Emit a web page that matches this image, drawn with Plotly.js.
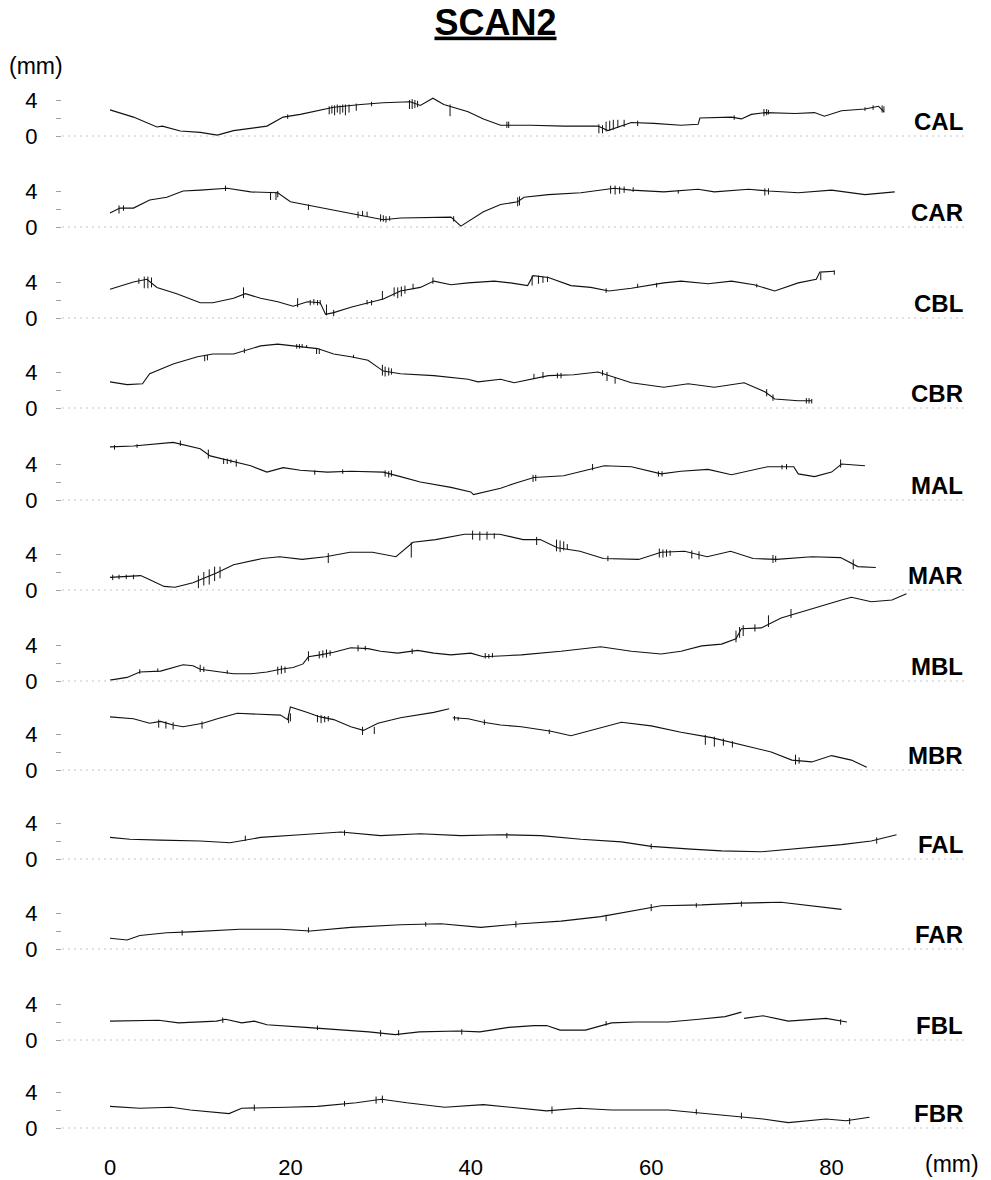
<!DOCTYPE html>
<html>
<head>
<meta charset="utf-8">
<script src="https://cdn.plot.ly/plotly-3.0.1.min.js"></script>
<style>
  html, body { margin: 0; padding: 0; background: #fff; }
  #chart { width: 991px; height: 1180px; }
</style>
</head>
<body>
<div id="chart"></div>
<script>
// Surface profiles, SCAN2: height (mm) along the scan (mm), one strip per region.
const seriesNames = ['CAL', 'CAR', 'CBL', 'CBR', 'MAL', 'MAR', 'MBL', 'MBR', 'FAL', 'FAR', 'FBL', 'FBR'];
const xTickValues = [0, 20, 40, 60, 80];
const yTickValues = [0, 2, 4];
const yTickLabels = ['0', '', '4'];

// Profile traces: position (mm) and height (mm).
const calX = [0, 2.6, 5.2, 5.8, 7.8, 10, 11.9, 13.7, 17.4, 19.2, 21.1, 23, 24.8, 27.8, 30.3, 33.3, 34.4, 35.8, 37, 39.7, 41.4, 43.3, 46.7, 50.3, 54.1, 55.2, 57.8, 60.3, 63.3, 65.2, 65.4, 68.9, 70, 71.1, 72.6, 76, 78.1, 79.2, 81.1, 83.7, 85.2, 85.8];
const calY = [2.9, 2.1, 1.0, 1.1, 0.55, 0.4, 0.1, 0.6, 1.1, 2.1, 2.4, 2.8, 3.2, 3.5, 3.7, 3.8, 3.4, 4.2, 3.5, 2.7, 1.9, 1.2, 1.2, 1.1, 1.1, 0.6, 1.5, 1.4, 1.2, 1.3, 2.0, 2.1, 1.9, 2.4, 2.6, 2.5, 2.6, 2.2, 2.8, 3.0, 3.3, 2.7];

const carX = [0, 1.1, 2.6, 4.4, 6.3, 8.1, 10, 13, 15.6, 18.6, 20, 23, 24.8, 27.8, 30.3, 32.2, 35.9, 37.8, 38.9, 41.4, 43.3, 45.2, 45.9, 48.6, 52.2, 55.9, 57.8, 61.4, 65.2, 67, 70.8, 73, 76.3, 80, 83.7, 87];
const carY = [1.55, 2.1, 2.1, 3.0, 3.3, 4.0, 4.1, 4.3, 3.9, 3.8, 2.8, 2.2, 1.9, 1.3, 0.8, 1.0, 1.1, 1.1, 0.1, 1.7, 2.5, 2.8, 3.3, 3.6, 3.8, 4.3, 4.1, 3.9, 4.2, 3.9, 4.2, 4.0, 3.8, 4.1, 3.6, 3.9];

const cblX = [0, 2.6, 4.1, 5.2, 7.4, 10, 11.4, 13.7, 15, 16.7, 18.6, 20.3, 21.9, 23.3, 23.9, 24.8, 26.7, 28.6, 30.3, 32.2, 34.4, 35.9, 37.8, 39.7, 42.6, 44.4, 46.3, 46.9, 48.6, 51.1, 53.3, 55.3, 57.8, 61.4, 63.3, 66.3, 68.9, 71.4, 73.7, 76.3, 78.3, 78.7, 80.3];
const cblY = [3.2, 4.0, 4.3, 3.4, 2.7, 1.7, 1.7, 2.2, 2.7, 2.2, 1.8, 1.3, 1.8, 1.7, 0.4, 0.6, 1.2, 1.7, 2.1, 3.0, 3.4, 4.1, 3.7, 3.9, 4.1, 3.9, 3.6, 4.7, 4.5, 3.6, 3.4, 3.0, 3.3, 3.9, 4.1, 3.8, 4.1, 3.7, 3.0, 3.9, 4.3, 5.1, 5.2];

const cbrX = [0, 1.9, 3.6, 4.4, 7, 9.7, 11.4, 13.7, 16.7, 18.6, 20.3, 23, 24.8, 26.7, 28.6, 30.3, 32.2, 35.9, 39.7, 40.8, 43.3, 44.8, 48.6, 51.4, 54.1, 55.9, 57.8, 61.4, 64.1, 67, 70.3, 72.6, 73.7, 76.3, 77.8];
const cbrY = [2.9, 2.6, 2.7, 3.8, 4.9, 5.7, 6.0, 6.0, 6.9, 7.1, 6.9, 6.6, 6.0, 5.7, 5.3, 4.1, 3.8, 3.6, 3.2, 2.9, 3.2, 2.8, 3.6, 3.7, 4.0, 3.4, 2.8, 2.3, 2.7, 2.3, 2.8, 1.8, 1.0, 0.8, 0.8];

const malX = [0, 2.6, 7, 7.8, 10, 11.1, 13.7, 15.6, 17.4, 19.2, 21.1, 24.1, 26.7, 30.3, 32.2, 34.4, 37.8, 40, 40.3, 43.3, 45, 47, 50.3, 54.8, 57.8, 61.1, 63.3, 66.3, 68.9, 71.4, 72.9, 75.8, 76.3, 78.1, 80, 81.1, 83.7];
const malY = [5.9, 6.0, 6.4, 6.2, 5.7, 4.9, 4.3, 3.8, 3.1, 3.6, 3.3, 3.1, 3.2, 3.1, 2.6, 2.0, 1.4, 0.9, 0.6, 1.3, 1.9, 2.5, 2.7, 3.8, 3.7, 2.9, 3.2, 3.4, 2.8, 3.4, 3.7, 3.7, 2.9, 2.6, 3.1, 4.0, 3.8];

const marX = [0, 3.4, 4.3, 6, 7.2, 9.2, 11.8, 13.7, 16.9, 18.8, 21.3, 23.9, 26.6, 29.1, 31.7, 33.6, 36.1, 39.3, 43.2, 45.8, 47.7, 49.6, 52.1, 54.7, 58.6, 61.1, 63.7, 66.2, 68.8, 71.3, 73.9, 77.8, 81, 82.9, 84.9];
const marY = [1.4, 1.6, 1.2, 0.4, 0.3, 0.8, 1.9, 2.8, 3.5, 3.7, 3.4, 3.7, 4.2, 4.2, 3.7, 5.3, 5.6, 6.2, 6.2, 5.6, 5.6, 4.7, 4.3, 3.5, 3.4, 4.2, 4.3, 3.7, 4.3, 3.5, 3.4, 3.7, 3.6, 2.6, 2.5];

const mblX = [0, 1.9, 3.3, 5.6, 8.1, 9.2, 10, 11.9, 13.7, 15.6, 17.4, 18.9, 20.3, 21.4, 22, 23.3, 24.8, 26.7, 28.6, 30, 31.9, 34.1, 35.9, 37.8, 40, 41.4, 43.3, 45.6, 50, 54.4, 57.8, 61.1, 63.3, 65.6, 67.8, 69.4, 70, 72.2, 74.4, 76.7, 78.9, 81.1, 82.2, 84.4, 86.7, 88.3];
const mblY = [0.1, 0.4, 1.0, 1.1, 1.8, 1.7, 1.3, 1.0, 0.8, 0.8, 1.0, 1.3, 1.5, 1.9, 2.7, 2.9, 3.2, 3.7, 3.6, 3.3, 3.1, 3.4, 3.1, 2.9, 3.1, 2.7, 2.8, 2.9, 3.3, 3.8, 3.3, 3.0, 3.3, 3.9, 4.1, 4.7, 5.8, 5.9, 7.0, 7.7, 8.4, 9.0, 9.3, 8.8, 9.0, 9.7];

const mbrX = [0, 2.6, 4.4, 5.6, 7, 8.1, 10.3, 11.9, 14.1, 16.7, 18.9, 19.7, 20, 21.9, 23.3, 24.8, 26.7, 28.1, 29.7, 32.2, 34.1, 35.9, 37.6, null, 38, 39.7, 41.4, 43.3, 45.6, 48.9, 51.1, 54.4, 56.7, 60, 63.3, 66.7, 70, 73.3, 75.6, 77.8, 80, 82.2, 83.9];
const mbrY = [5.9, 5.7, 5.2, 5.4, 5.0, 4.8, 5.2, 5.7, 6.3, 6.2, 6.1, 5.6, 7.0, 6.4, 5.9, 5.6, 4.8, 4.4, 5.2, 5.8, 6.1, 6.4, 6.8, null, 5.8, 5.7, 5.3, 5.0, 4.8, 4.3, 3.8, 4.7, 5.3, 4.9, 4.2, 3.6, 2.8, 2.0, 1.1, 0.9, 1.6, 1.1, 0.3];

const falX = [0, 2.2, 5.6, 10, 13.3, 16.7, 21.1, 25.6, 30, 34.4, 38.9, 43.3, 47.8, 52.2, 56.7, 60, 64.4, 67.8, 72.2, 76.7, 81.1, 84.4, 87.2];
const falY = [2.4, 2.2, 2.1, 2.0, 1.8, 2.4, 2.7, 3.0, 2.6, 2.8, 2.6, 2.7, 2.6, 2.2, 1.9, 1.4, 1.1, 0.9, 0.8, 1.2, 1.6, 2.0, 2.7];

const farX = [0, 1.9, 3.3, 6.3, 8.9, 14.4, 18.9, 22.2, 26.7, 32.2, 36.7, 41.1, 45.6, 50, 54.4, 57.8, 61.1, 65.6, 70, 74.4, 76.7, 81.1];
const farY = [1.2, 1.0, 1.5, 1.8, 1.9, 2.2, 2.2, 2.0, 2.4, 2.7, 2.8, 2.4, 2.8, 3.1, 3.6, 4.2, 4.8, 4.9, 5.1, 5.2, 4.9, 4.4];

const fblX = [0, 5.4, 7.6, 11.8, 12.8, 14.6, 16, 17.4, 21.7, 25.9, 28.7, 31.6, 34.3, 38.6, 41, 44.2, 47, 48.4, 49.9, 52.7, 55.6, 58.3, 61.9, 65.3, 68.2, 70, null, 70.3, 72.4, 75.2, 79.4, 81.7];
const fblY = [2.1, 2.2, 1.9, 2.1, 2.3, 1.9, 2.1, 1.7, 1.4, 1.1, 0.9, 0.6, 0.9, 1.0, 0.9, 1.4, 1.6, 1.6, 1.1, 1.1, 1.9, 2.0, 2.0, 2.3, 2.6, 3.1, null, 2.4, 2.7, 2.1, 2.4, 2.0];

const fbrX = [0, 3.3, 6.8, 8.9, 13.2, 14.6, 19.6, 23, 27.3, 30.1, 32.9, 37.1, 41.4, 44.2, 48.4, 52, 55.6, 61.9, 65.3, 69.7, 72.4, 75.2, 79.4, 81.6, 84.2];
const fbrY = [2.4, 2.2, 2.3, 2.0, 1.6, 2.2, 2.3, 2.4, 2.8, 3.2, 2.8, 2.3, 2.6, 2.3, 1.9, 2.2, 2.0, 2.0, 1.7, 1.3, 1.0, 0.6, 1.0, 0.8, 1.2];

// Stylus spikes: [position, lowest height, highest height] in mm.
const calSpikes = [[19.7, 1.9, 2.4], [24.3, 2.4, 3.3], [24.6, 2.5, 3.4], [24.9, 2.3, 3.4], [25.2, 2.6, 3.5], [25.5, 2.4, 3.4], [25.8, 2.6, 3.5], [26.1, 2.3, 3.5], [26.5, 2.6, 3.5], [27.3, 2.8, 3.6], [29.0, 3.3, 3.8], [33.2, 3.0, 4.0], [33.5, 3.0, 4.1], [33.8, 3.1, 4.0], [34.1, 3.2, 3.9], [37.7, 2.2, 3.5], [44.0, 0.9, 1.6], [44.2, 0.9, 1.6], [54.2, 0.3, 1.3], [54.6, 0.3, 1.2], [55.0, 0.5, 1.6], [55.4, 0.6, 1.7], [55.8, 0.7, 1.8], [56.3, 0.9, 1.8], [57.0, 1.0, 1.8], [58.5, 1.1, 1.7], [69.2, 1.8, 2.3], [72.5, 2.2, 3.0], [72.8, 2.3, 3.0], [73.0, 2.4, 2.9], [83.7, 2.8, 3.2], [84.6, 2.9, 3.4], [85.6, 2.6, 3.4], [85.8, 2.6, 3.3]];
const carSpikes = [[1.0, 1.5, 2.4], [1.5, 1.8, 2.4], [12.8, 4.0, 4.6], [17.8, 3.0, 3.9], [18.4, 3.0, 3.9], [18.6, 3.3, 4.0], [22, 1.9, 2.5], [27.5, 1.0, 1.7], [28, 1.2, 1.8], [28.5, 1.2, 1.7], [30.0, 0.6, 1.4], [30.3, 0.6, 1.3], [30.6, 0.5, 1.2], [31.0, 0.7, 1.2], [38.1, 0.6, 1.2], [45.2, 2.3, 3.3], [45.4, 2.4, 3.4], [55.5, 3.7, 4.6], [56, 3.6, 4.6], [56.5, 3.7, 4.5], [57, 3.8, 4.5], [58, 3.9, 4.4], [63.0, 3.7, 4.1], [72.6, 3.5, 4.3], [73, 3.6, 4.3]];
const cblSpikes = [[3.2, 3.8, 4.4], [3.8, 3.3, 4.6], [4.2, 3.3, 4.6], [4.6, 3.4, 4.5], [14.8, 2.2, 3.4], [20.8, 1.2, 2.2], [22.2, 1.4, 2.0], [22.6, 1.5, 2.1], [23.0, 1.4, 2.0], [23.3, 1.5, 2.0], [24.0, 0.3, 1.5], [24.8, 0.2, 0.9], [28.5, 1.5, 2.0], [29.0, 1.4, 2.0], [30.2, 2.0, 3.0], [31.5, 2.4, 3.4], [31.9, 2.2, 3.4], [32.3, 2.4, 3.5], [32.7, 2.7, 3.6], [33.6, 3.2, 3.8], [35.8, 3.8, 4.5], [46.8, 3.6, 4.7], [47.5, 3.8, 4.7], [48.0, 3.9, 4.6], [48.5, 4.0, 4.6], [55, 2.8, 3.3], [58.5, 3.4, 3.8], [60.6, 3.4, 3.9], [71.7, 3.4, 3.8], [78.8, 4.2, 5.0], [80.3, 4.8, 5.3]];
const cbrSpikes = [[10.5, 5.2, 5.9], [10.8, 5.3, 5.9], [14.9, 6.1, 6.6], [20.7, 6.6, 7.1], [21.0, 6.6, 7.1], [21.3, 6.7, 7.1], [21.8, 6.7, 7.0], [22.9, 6.0, 6.6], [23.2, 6.0, 6.6], [27, 5.6, 5.9], [30.2, 3.6, 4.8], [30.5, 3.5, 4.6], [30.9, 3.6, 4.5], [31.2, 3.7, 4.4], [47, 3.2, 3.8], [48, 3.3, 4.0], [49.6, 3.3, 3.9], [50, 3.3, 3.9], [54.6, 3.6, 4.2], [55.1, 3.0, 4.0], [56, 2.7, 3.4], [72.8, 1.3, 2.1], [73.5, 0.8, 1.5], [77.2, 0.5, 1.1], [77.5, 0.5, 1.1], [77.8, 0.5, 1.0]];
const malSpikes = [[0.5, 5.6, 6.1], [3.0, 5.8, 6.2], [7.8, 6.0, 6.6], [10.9, 4.6, 5.6], [12.6, 4.0, 4.6], [13.0, 4.0, 4.6], [13.4, 4.1, 4.5], [14.0, 3.7, 4.5], [22.7, 2.8, 3.3], [25.8, 2.9, 3.4], [30.5, 2.6, 3.3], [30.9, 2.5, 3.2], [31.2, 2.6, 3.3], [46.9, 2.0, 2.8], [47.2, 2.1, 2.8], [53.5, 3.3, 4.0], [60.8, 2.6, 3.2], [61.2, 2.6, 3.2], [74.5, 3.4, 3.9], [75.0, 3.4, 4.0], [81.0, 3.6, 4.5]];
const marSpikes = [[0.3, 1.1, 1.7], [1.0, 1.2, 1.7], [1.8, 1.2, 1.7], [2.6, 1.2, 1.7], [9.8, 0.2, 1.6], [10.4, 0.5, 2.0], [11.0, 0.6, 2.3], [11.6, 1.0, 2.6], [12.2, 1.3, 2.6], [24.2, 3.0, 4.1], [33.4, 3.6, 5.3], [40.2, 5.6, 6.6], [41.0, 5.5, 6.5], [41.8, 5.6, 6.5], [42.6, 5.7, 6.3], [47.3, 5.0, 5.9], [49.5, 4.3, 5.6], [49.9, 4.2, 5.5], [50.3, 4.4, 5.4], [50.7, 4.5, 5.1], [55.2, 3.2, 3.8], [60.9, 3.6, 4.6], [61.3, 3.6, 4.5], [61.7, 3.7, 4.5], [62.1, 3.8, 4.4], [64.5, 3.5, 4.4], [65.3, 3.4, 4.3], [73.5, 3.0, 3.9], [73.8, 3.1, 3.8], [82.4, 2.3, 3.4]];
const mblSpikes = [[3.3, 0.8, 1.3], [5.3, 1.0, 1.4], [10.0, 1.0, 1.8], [10.4, 1.0, 1.6], [13.0, 0.8, 1.2], [18.6, 0.7, 1.6], [19.0, 0.8, 1.7], [19.4, 0.9, 1.6], [22.0, 2.2, 3.3], [23.2, 2.5, 3.3], [23.6, 2.6, 3.4], [24.0, 2.6, 3.5], [24.4, 2.8, 3.4], [27.5, 3.3, 4.0], [28.3, 3.4, 3.9], [33.5, 3.0, 3.6], [41.6, 2.5, 3.1], [42.0, 2.5, 3.0], [42.4, 2.6, 3.1], [69.4, 4.3, 5.6], [69.8, 4.8, 6.0], [70.2, 5.0, 6.2], [71.5, 5.5, 6.3], [73, 6.0, 7.3], [75.5, 7.0, 8.0]];
const mbrSpikes = [[5.4, 4.7, 5.6], [6.2, 4.6, 5.4], [7.0, 4.5, 5.3], [10.2, 4.6, 5.4], [19.8, 5.2, 6.2], [20.0, 5.4, 6.3], [23.0, 5.3, 6.1], [23.4, 5.2, 6.1], [23.8, 5.3, 6.0], [24.2, 5.4, 6.0], [28.0, 3.9, 4.8], [29.3, 4.0, 4.8], [38.2, 5.5, 6.0], [38.6, 5.5, 5.9], [41.5, 5.0, 5.6], [48.7, 4.0, 4.5], [66.0, 2.8, 3.9], [67.0, 2.6, 3.7], [68.0, 2.7, 3.5], [69.0, 2.5, 3.2], [76.0, 0.6, 1.7], [76.4, 0.7, 1.4]];
const falSpikes = [[15, 2.0, 2.6], [26, 2.6, 3.2], [44, 2.3, 2.9], [60, 1.1, 1.7], [85, 1.7, 2.4]];
const farSpikes = [[8, 1.5, 2.1], [22, 1.8, 2.4], [35, 2.5, 3.0], [45, 2.4, 3.1], [55, 3.1, 3.8], [60, 4.2, 5.0], [65, 4.6, 5.1], [70, 4.7, 5.3]];
const fblSpikes = [[12.5, 1.9, 2.5], [23, 1.1, 1.6], [30, 0.4, 1.1], [32, 0.5, 1.1], [39, 0.6, 1.2], [55, 1.6, 2.1], [81, 1.7, 2.3]];
const fbrSpikes = [[16, 1.9, 2.6], [26, 2.4, 3.0], [29.5, 2.7, 3.5], [30.2, 2.8, 3.6], [49, 1.6, 2.4], [65, 1.5, 2.1], [70, 1.0, 1.7], [82, 0.4, 1.1]];

const profiles = [
  { name: seriesNames[0], x: calX, y: calY, spikes: calSpikes },
  { name: seriesNames[1], x: carX, y: carY, spikes: carSpikes },
  { name: seriesNames[2], x: cblX, y: cblY, spikes: cblSpikes },
  { name: seriesNames[3], x: cbrX, y: cbrY, spikes: cbrSpikes },
  { name: seriesNames[4], x: malX, y: malY, spikes: malSpikes },
  { name: seriesNames[5], x: marX, y: marY, spikes: marSpikes },
  { name: seriesNames[6], x: mblX, y: mblY, spikes: mblSpikes },
  { name: seriesNames[7], x: mbrX, y: mbrY, spikes: mbrSpikes },
  { name: seriesNames[8], x: falX, y: falY, spikes: falSpikes },
  { name: seriesNames[9], x: farX, y: farY, spikes: farSpikes },
  { name: seriesNames[10], x: fblX, y: fblY, spikes: fblSpikes },
  { name: seriesNames[11], x: fbrX, y: fbrY, spikes: fbrSpikes }
];

// Page geometry: both axes share one scale (about 9 px per mm).
const FONT = '"Liberation Sans", Arial, sans-serif';
const W = 991, H = 1180;
const M = { l: 62, r: 20, t: 60, b: 40 };
const PX_PER_MM_X = 9.02, PX_PER_MM_Y = 9.0;
const X_ZERO_PX = 110;
// Pixel row of each strip's zero line, top to bottom.
const panelZeroPx = [136, 227, 318, 408, 500, 590, 681, 770, 859, 949, 1040, 1128];

const plotW = W - M.l - M.r;
const plotH = H - M.t - M.b;
const xMin = -(X_ZERO_PX - M.l) / PX_PER_MM_X;
const xMax = xMin + plotW / PX_PER_MM_X;
const ySpan = plotH / PX_PER_MM_Y;

const traces = [];
const shapes = [];
const annotations = [];
const layout = {
  width: W,
  height: H,
  margin: M,
  paper_bgcolor: '#fff',
  plot_bgcolor: 'rgba(0,0,0,0)',
  showlegend: false,
  font: { family: FONT, color: '#000' },
  title: {
    text: '<b>SCAN2</b>',
    font: { family: FONT, size: 36, color: '#000', lineposition: 'under' },
    x: 0.5, xref: 'container', xanchor: 'center',
    y: 1 - 22 / H, yref: 'container', yanchor: 'middle'
  },
  xaxis: {
    range: [xMin, xMax],
    tickvals: xTickValues,
    ticks: '',
    showgrid: false, zeroline: false, showline: false,
    tickfont: { family: FONT, size: 22, color: '#000' },
    ticklabelstandoff: 12,
    fixedrange: true
  }
};

profiles.forEach((p, i) => {
  const axId = i === 0 ? 'y' : 'y' + (i + 1);
  const axKey = i === 0 ? 'yaxis' : 'yaxis' + (i + 1);
  const lo = (panelZeroPx[i] - (H - M.b)) / PX_PER_MM_Y;
  const ax = {
    range: [lo, lo + ySpan],
    tickvals: yTickValues,
    ticktext: yTickLabels,
    ticks: 'outside',
    ticklen: 5,
    tickwidth: 1,
    tickcolor: '#a0a0a0',
    showgrid: false, zeroline: false, showline: false,
    tickfont: { family: FONT, size: 22, color: '#000' },
    ticklabelstandoff: 14,
    fixedrange: true
  };
  if (i > 0) ax.overlaying = 'y';
  layout[axKey] = ax;

  // faint dotted zero line of the strip
  shapes.push({
    type: 'line', xref: 'x', yref: axId,
    x0: xMin, x1: xMax - 0.5, y0: 0, y1: 0,
    line: { color: '#c4c4c4', width: 1, dash: '2px,4px' }
  });

  traces.push({
    type: 'scatter', mode: 'lines',
    x: p.x, y: p.y, yaxis: axId,
    line: { color: '#111', width: 1.1 },
    connectgaps: false, hoverinfo: 'skip'
  });

  const sx = [], sy = [];
  p.spikes.forEach(([x, low, high]) => {
    sx.push(x, x, null);
    sy.push(low, high, null);
  });
  traces.push({
    type: 'scatter', mode: 'lines',
    x: sx, y: sy, yaxis: axId,
    line: { color: '#111', width: 1 },
    connectgaps: false, hoverinfo: 'skip'
  });

  annotations.push({
    xref: 'x', yref: axId, x: (965 - X_ZERO_PX) / PX_PER_MM_X, y: 1.65,
    xanchor: 'right', yanchor: 'middle', showarrow: false,
    text: '<b>' + p.name + '</b>',
    font: { family: FONT, size: 24, color: '#000' }
  });
});

// unit labels
annotations.push({
  xref: 'paper', yref: 'paper',
  x: (36 - M.l) / plotW, y: (H - M.b - 66) / plotH,
  xanchor: 'center', yanchor: 'middle', showarrow: false,
  text: '(mm)', font: { family: FONT, size: 23, color: '#000' }
});
annotations.push({
  xref: 'paper', yref: 'paper',
  x: (952 - M.l) / plotW, y: (H - M.b - 1164) / plotH,
  xanchor: 'center', yanchor: 'middle', showarrow: false,
  text: '(mm)', font: { family: FONT, size: 23, color: '#000' }
});

layout.shapes = shapes;
layout.annotations = annotations;

Plotly.newPlot('chart', traces, layout, { displayModeBar: false, staticPlot: true });
</script>
</body>
</html>
